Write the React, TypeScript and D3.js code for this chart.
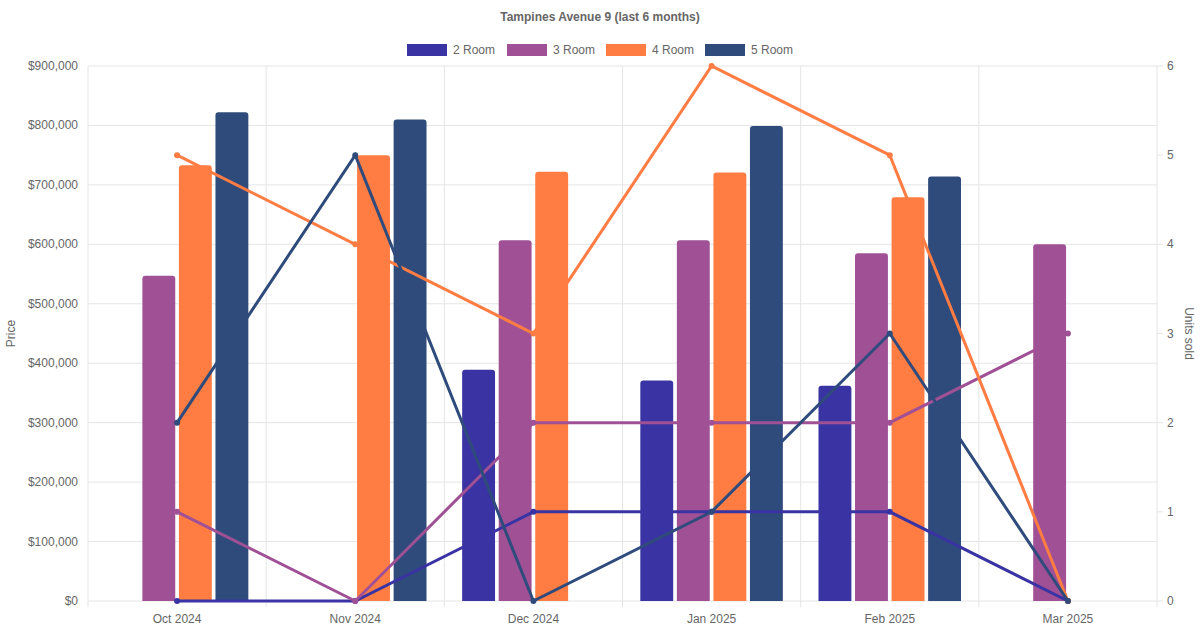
import React from "react";
import * as d3 from "d3";

const categories = ["Oct 2024", "Nov 2024", "Dec 2024", "Jan 2025", "Feb 2025", "Mar 2025"];
const seriesNames = ["2 Room", "3 Room", "4 Room", "5 Room"];
const colors = ["#3a33a3", "#a05195", "#ff7c43", "#2f4b7c"];
const price2 = [null, null, 389000, 371000, 362000, null];
const price3 = [547000, null, 607000, 607000, 585000, 600000];
const price4 = [733000, 750000, 722000, 721000, 679000, null];
const price5 = [822000, 810000, null, 799000, 714000, null];
const units2 = [0, 0, 1, 1, 1, 0];
const units3 = [1, 0, 2, 2, 2, 3];
const units4 = [5, 4, 3, 6, 5, 0];
const units5 = [2, 5, 0, 1, 3, 0];
const priceTicks = [0, 100000, 200000, 300000, 400000, 500000, 600000, 700000, 800000, 900000];
const unitTicks = [0, 1, 2, 3, 4, 5, 6];

const prices = [price2, price3, price4, price5];
const units = [units2, units3, units4, units5];

export default function App() {
  const W = 1200, H = 630;
  const L = 88, R = 1157, T = 66, B = 601;
  const x = d3.scaleBand().domain(categories).range([L, R]);
  const inner = d3.scaleBand().domain(seriesNames).range([0, x.bandwidth() * 0.8]).paddingInner(0.1);
  const y = d3.scaleLinear().domain([0, 900000]).range([B, T]);
  const y2 = d3.scaleLinear().domain([0, 6]).range([B, T]);
  const font = "Liberation Sans, Arial, sans-serif";
  const cx = (c: string) => x(c)! + x.bandwidth() / 2;
  const fmt = (v: number) => "$" + d3.format(",")(v);
  const line = d3.line<number>().x((_, i) => cx(categories[i])).y((d) => y2(d));
  const legendW = [100, 100, 100, 100];
  const legendX = [407, 507, 606, 705];
  return (
    <svg width={W} height={H} style={{ position: "absolute", left: 0, top: 0, background: "#fff" }} fontFamily={font}>
      <text x={600} y={21} textAnchor="middle" fontSize={12} fontWeight="bold" fill="#666">Tampines Avenue 9 (last 6 months)</text>
      {seriesNames.map((s, i) => (
        <g key={s}>
          <rect x={legendX[i]} y={44} width={40} height={12} fill={colors[i]} />
          <text x={legendX[i] + 46} y={54} fontSize={12} fill="#666">{s}</text>
        </g>
      ))}
      {priceTicks.map((t) => (
        <g key={t}>
          <line x1={L} x2={R} y1={y(t)} y2={y(t)} stroke="#e5e5e5" />
          <text x={L - 10} y={y(t) + 4} textAnchor="end" fontSize={12} fill="#666">{fmt(t)}</text>
        </g>
      ))}
      {categories.map((c, i) => (
        <g key={c}>
          <line x1={x(c)!} x2={x(c)!} y1={T} y2={B + 6} stroke="#e5e5e5" />
          <text x={cx(c)} y={623} textAnchor="middle" fontSize={12} fill="#666">{c}</text>
        </g>
      ))}
      <line x1={R} x2={R} y1={T} y2={B + 6} stroke="#e5e5e5" />
      {unitTicks.map((t) => (
        <g key={t}>
          <line x1={R} x2={R + 6} y1={y2(t)} y2={y2(t)} stroke="#e5e5e5" />
          <text x={R + 10} y={y2(t) + 4} fontSize={12} fill="#666">{t}</text>
        </g>
      ))}
      <text transform={`translate(15,${(T + B) / 2}) rotate(-90)`} textAnchor="middle" fontSize={12} fill="#666">Price</text>
      <text transform={`translate(1185,${(T + B) / 2}) rotate(90)`} textAnchor="middle" fontSize={12} fill="#666">Units sold</text>
      {prices.map((arr, si) =>
        arr.map((v, ci) => {
          if (v == null) return null;
          const c = categories[ci];
          const bx = x(c)! + x.bandwidth() * 0.1 + inner(seriesNames[si])!;
          const bw = inner.bandwidth();
          const top = y(v), r = 3;
          const d = `M${bx},${B} V${top + r} Q${bx},${top} ${bx + r},${top} H${bx + bw - r} Q${bx + bw},${top} ${bx + bw},${top + r} V${B} Z`;
          return <path key={si + "-" + ci} d={d} fill={colors[si]} />;
        })
      )}
      {units.map((arr, si) => (
        <g key={si}>
          <path d={line(arr)!} fill="none" stroke={colors[si]} strokeWidth={3} />
          {arr.map((v, ci) => (
            <circle key={ci} cx={cx(categories[ci])} cy={y2(v)} r={3} fill={colors[si]} />
          ))}
        </g>
      ))}
    </svg>
  );
}
